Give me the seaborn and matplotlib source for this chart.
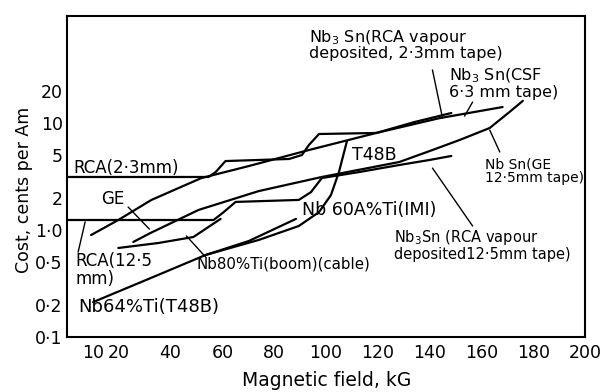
import matplotlib
matplotlib.use("Agg")
import matplotlib.pyplot as plt
import pandas as pd
import seaborn as sns

# ---- data (magnetic field in kG, cost in cents per A m) ----
rca23_field = [0, 54.7, 57.4, 61.2, 85.7, 90.7, 93.4, 97.3, 119.4, 134.1, 148.4]
rca23_cost = [3.13, 3.13, 3.48, 4.41, 4.61, 5.02, 6.23, 7.89, 8.07, 10.2, 12.4]

rca125_field = [0, 56.6, 60.5, 65.1, 89.5, 94.2, 98.4, 112.8, 128.3, 139.9, 148.4]
rca125_cost = [1.24, 1.24, 1.47, 1.83, 1.91, 2.26, 3.06, 3.48, 4.05, 4.51, 4.92]

ge_field = [25.6, 32.2, 50.8, 74.0, 98.4, 128.3, 141.1, 151.6, 163.2, 170.9, 176.0]
ge_cost = [0.773, 0.937, 1.54, 2.31, 3.13, 4.32, 5.59, 6.94, 8.98, 12.7, 16.1]

csf_field = [9.3, 19.8, 32.6, 51.9, 70.2, 93.4, 119.4, 143.8, 168.2]
csf_cost = [0.897, 1.24, 1.91, 3.06, 3.96, 5.59, 8.07, 11.1, 14.1]

t48b_field = [10.1, 31.4, 53.5, 74.0, 89.5, 97.3, 101.9, 105.0, 107.0, 108.1]
t48b_cost = [0.212, 0.348, 0.584, 0.807, 1.09, 1.47, 2.12, 3.48, 5.36, 6.79]

imi_field = [53.5, 70.2, 88.4]
imi_cost = [0.584, 0.789, 1.27]

nb80_field = [19.8, 35.3, 48.8, 59.3]
nb80_cost = [0.679, 0.756, 0.860, 1.27]

x_ticks = [10, 20, 30, 40, 50, 60, 70, 80, 90, 100, 110, 120, 130, 140, 150,
           160, 170, 180, 190, 200]
x_tick_labels = ["10", "20", "", "40", "", "60", "", "80", "", "100", "", "120", "",
                 "140", "", "160", "", "180", "", "200"]
y_ticks = [0.1, 0.2, 0.5, 1.0, 2, 5, 10, 20]
y_tick_labels = ["0·1", "0·2", "0·5", "1·0", "2", "5", "10", "20"]

series = {
    "RCA 2.3": (rca23_field, rca23_cost),
    "RCA 12.5": (rca125_field, rca125_cost),
    "GE": (ge_field, ge_cost),
    "CSF": (csf_field, csf_cost),
    "T48B": (t48b_field, t48b_cost),
    "IMI": (imi_field, imi_cost),
    "Nb80Ti": (nb80_field, nb80_cost),
}
rows = []
for name, (xs, ys) in series.items():
    for i, (xv, yv) in enumerate(zip(xs, ys)):
        rows.append({"series": name, "order": i, "field": xv, "cost": yv})
df = pd.DataFrame(rows)

sns.set_theme(style="white")
plt.rcParams["font.family"] = ["DejaVu Sans"]

fig = plt.figure(figsize=(6.13, 3.92), dpi=100)
ax = fig.add_axes([67 / 613, 1 - 337 / 392, (585 - 67) / 613, (337 - 16) / 392])

sns.lineplot(data=df, x="field", y="cost", units="series", estimator=None,
             sort=False, color="black", linewidth=1.6, ax=ax)

ax.set_yscale("log")
ax.set_xlim(0, 200)
ax.set_ylim(0.1, 100)
ax.set_xticks(x_ticks)
ax.set_xticklabels(x_tick_labels)
ax.set_yticks(y_ticks)
ax.set_yticklabels(y_tick_labels)
ax.minorticks_off()
ax.tick_params(axis="both", direction="in", length=5, width=1.2, colors="black",
               labelsize=12.5, top=False, right=False)
ax.tick_params(axis="x", pad=5)
ax.tick_params(axis="y", pad=3)
for s in ax.spines.values():
    s.set_visible(True)
    s.set_color("black")
    s.set_linewidth(1.5)

ax.set_xlabel("Magnetic field, kG", fontsize=13.5, color="black")
ax.xaxis.set_label_coords(0.502, -0.105)
ax.set_ylabel("Cost, cents per Am", fontsize=12.5, color="black")
ax.yaxis.set_label_coords(-0.066, 0.458)


def lab(x, y, s, fs=11):
    ax.text(x, y, s, fontsize=fs, color="black", ha="left", va="top",
            linespacing=0.95)


lab(2.3, 4.61, "RCA(2·3mm)", 12)
lab(13.2, 2.37, "GE", 12)
lab(3.1, 0.62, "RCA(12·5\nmm)", 12)
lab(4.3, 0.231, "Nb64%Ti(T48B)", 13)
lab(50.0, 0.56, "Nb80%Ti(boom)(cable)", 10.8)
lab(90.7, 1.87, "Nb 60A%Ti(IMI)", 12.5)
lab(126.4, 1.04, "Nb$_3$Sn (RCA vapour\ndeposited12·5mm tape)", 10.5)
lab(110.1, 6.1, "T48B", 12.5)
lab(161.2, 4.71, "Nb Sn(GE\n12·5mm tape)", 10)
lab(93.4, 77.3, "Nb$_3$ Sn(RCA vapour\ndeposited, 2·3mm tape)", 11.5)
lab(147.3, 33.3, "Nb$_3$ Sn(CSF\n6·3 mm tape)", 11.5)

leaders = [
    ((141.1, 31.3), (145.0, 11.1)),
    ((156.6, 15.7), (153.5, 11.6)),
    ((167.1, 5.36), (163.2, 8.6)),
    ((141.1, 3.79), (156.6, 1.09)),
    ((23.6, 1.64), (31.8, 1.02)),
    ((4.3, 0.622), (7.0, 1.19)),
    ((53.5, 0.56), (46.1, 0.88)),
]
for (x0, y0), (x1, y1) in leaders:
    ax.plot([x0, x1], [y0, y1], color="black", linewidth=1.0)

fig.savefig("out.png", dpi=100)
